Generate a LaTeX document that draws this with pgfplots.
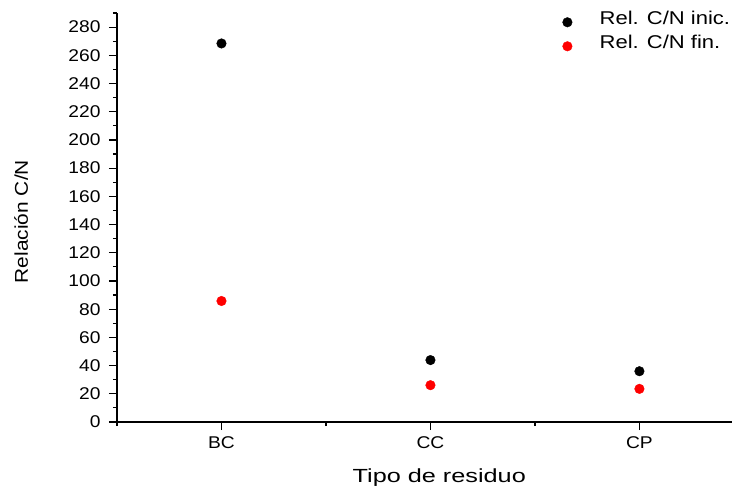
\documentclass[border=0pt]{standalone}
\usepackage{fontspec}
\setmainfont{Liberation Sans}[FakeStretch=1.13]
\newfontfamily\xlabfont{Liberation Sans}[FakeStretch=1.33]
\newfontfamily\legfont{Liberation Sans}[FakeStretch=1.19]
\usepackage{pgfplots}
\pgfplotsset{compat=1.18}
\begin{document}
\begin{tikzpicture}
\path[use as bounding box] (-117bp,-64bp) rectangle (615bp,422bp);
\begin{axis}[
  at={(0,0)}, anchor=origin,
  scale only axis,
  width=615bp, height=409bp,
  xmin=0.5, xmax=3.443,
  ymin=0, ymax=290,
  axis x line=bottom, axis y line=left,
  axis line style={-, line width=1.2bp, black},
  tick align=outside,
  major tick length=8bp, minor tick length=4bp,
  every tick/.style={black, line width=1.2bp},
  xtick={1,2,3}, xticklabels={BC,CC,CP},
  minor xtick={0.5,1.5,2.5,3.5},
  ytick={0,20,...,280},
  minor ytick={10,30,...,290},
  /pgf/number format/assume math mode=true,
  tick label style={font=\fontsize{17bp}{20bp}\selectfont},
  yticklabel style={xshift=-5bp},
  xticklabel style={yshift=-3bp},
  xlabel={Tipo de residuo},
  ylabel={Relación C/N},
  xlabel style={font=\fontsize{19bp}{22bp}\selectfont\xlabfont, at={(axis description cs:0.524,-0.147)}, anchor=base},
  ylabel style={font=\fontsize{18.5bp}{22bp}\selectfont, at={(axis description cs:-0.156,0.49)}, anchor=center},
  legend style={draw=none, fill=none, at={(axis description cs:0.7236,1.004)}, anchor=north west,
    inner sep=0pt, column sep=0pt, row sep=8.5bp,
    nodes={inner sep=0pt, anchor=base west},
    font=\fontsize{18.5bp}{21bp}\selectfont\legfont},
  legend cell align=left,
  legend image code/.code={\path (0bp,0bp) (37bp,0bp); \draw[#1] plot coordinates {(5bp,0.27em)};},
  clip=false,
]
\addplot[only marks, mark=*, mark size=4.8bp, black] coordinates {(1,268.4) (2,43.9) (3,36.0)};
\addlegendentry{Rel. C/N inic.}
\addplot[only marks, mark=*, mark size=4.8bp, red] coordinates {(1,85.8) (2,26.1) (3,23.5)};
\addlegendentry{Rel. C/N fin.}
\end{axis}
\end{tikzpicture}
\end{document}
